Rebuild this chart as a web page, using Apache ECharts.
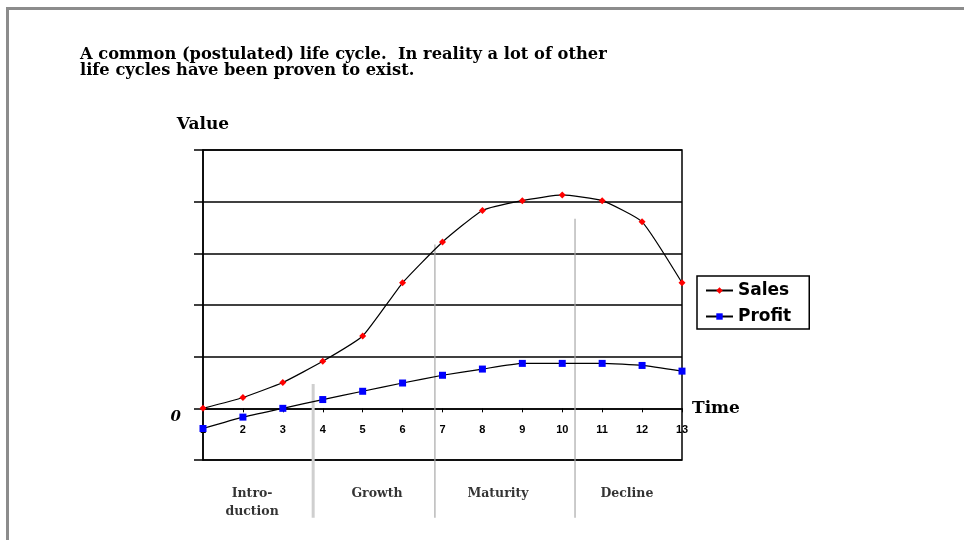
<!DOCTYPE html>
<html>
<head>
<meta charset="utf-8">
<script src="https://cdn.jsdelivr.net/npm/echarts@6/dist/echarts.min.js"></script>
<style>
html,body{margin:0;padding:0;background:#fff;}
#frame{position:absolute;left:6px;top:7px;width:964px;height:540px;border-top:3px solid #8c8c8c;border-left:3px solid #8c8c8c;}
#chart{position:absolute;left:0;top:0;width:964px;height:540px;}
</style>
</head>
<body>
<div id="frame"></div>
<div id="chart"></div>
<script>
// ---- data ----
const periods = [1,2,3,4,5,6,7,8,9,10,11,12,13];
const sales  = [0, 0.21, 0.5, 0.91, 1.4, 2.43, 3.22, 3.83, 4.02, 4.13, 4.02, 3.61, 2.43];
const profit = [-0.39, -0.17, 0, 0.17, 0.33, 0.49, 0.64, 0.76, 0.87, 0.87, 0.87, 0.83, 0.72];
const phaseNames = ['Intro-\nduction', 'Growth', 'Maturity', 'Decline'];
const phaseLabelX = [2.23, 5.36, 8.39, 11.62];
const phaseLabelY = -1.48;
const dividerX = [3.76, 6.81, 10.32];
const dividerTop = [0.47, 3.17, 3.67];
const dividerBottom = -2.12;
const titleText = 'A common (postulated) life cycle.  In reality a lot of other\nlife cycles have been proven to exist.';

const chart = echarts.init(document.getElementById('chart'), null, {renderer:'canvas'});

const serifBold = {fontFamily:'DejaVu Serif', fontWeight:'bold', color:'#000'};
const UNIT = 310 / 6;

const dividerSeries = dividerX.map((x, i) => ({
  type:'line', xAxisIndex:1, yAxisIndex:1, silent:true, symbol:'none',
  data:[[x, dividerTop[i]], [x, dividerBottom]],
  lineStyle:{color: i === 0 ? '#cfcfcf' : '#a8a8a8', width: i === 0 ? 3 : 1.2},
  z:1
}));

const option = {
  backgroundColor:'transparent',
  animation:false,
  title:{
    text: titleText, left:80, top:47, padding:0,
    textStyle:Object.assign({fontSize:16.3, lineHeight:16}, serifBold)
  },
  legend:{
    data:['Sales','Profit'],
    left:697, top:276, orient:'vertical',
    borderColor:'#000', borderWidth:1.5, padding:[6,18,4,8],
    itemWidth:27, itemHeight:8, itemGap:9,
    textStyle:{fontFamily:'DejaVu Sans', fontWeight:'bold', fontSize:17, color:'#000'}
  },
  grid:[
    {left:203, right:282, top:150, height:310, show:true, borderColor:'#000', borderWidth:1.5, backgroundColor:'transparent'},
    {left:203, right:282, top:150, height:UNIT * 7.2},
    {left:203, right:282, top:150, height:UNIT * 5}
  ],
  xAxis:[
    {type:'value', gridIndex:0, min:1, max:13, interval:1, show:false},
    {type:'value', gridIndex:1, min:1, max:13, show:false},
    {
      type:'value', gridIndex:2, min:1, max:13, interval:1, position:'bottom',
      name:'Time', nameLocation:'end', nameGap:10,
      nameTextStyle:Object.assign({fontSize:17, verticalAlign:'middle'}, serifBold),
      axisLine:{show:true, onZero:false, lineStyle:{color:'#000', width:1.5}},
      axisTick:{show:true, length:4, lineStyle:{color:'#000'}},
      axisLabel:{margin:16, fontFamily:'Liberation Sans', fontWeight:'bold', fontSize:11, color:'#000'},
      splitLine:{show:false}
    }
  ],
  yAxis:[
    {
      type:'value', gridIndex:0, min:-1, max:5, interval:1,
      name:'Value', nameLocation:'end', nameGap:17,
      nameTextStyle:Object.assign({fontSize:17, align:'center'}, serifBold),
      axisLine:{show:true, lineStyle:{color:'#000', width:1.5}},
      axisTick:{show:true, length:9, inside:false, lineStyle:{color:'#000', width:1.5}},
      axisLabel:{
        margin:22, fontFamily:'DejaVu Serif', fontStyle:'italic', fontWeight:'bold', fontSize:15, color:'#000',
        verticalAlign:'top', padding:[1,0,0,0],
        formatter: v => (v === 0 ? '0' : '')
      },
      splitLine:{show:true, lineStyle:{color:'#000', width:1.5}}
    },
    {type:'value', gridIndex:1, min:-2.2, max:5, show:false},
    {type:'value', gridIndex:2, min:0, max:5, show:false}
  ],
  series:[
    ...dividerSeries,
    {
      name:'Phases', type:'scatter', xAxisIndex:1, yAxisIndex:1, silent:true,
      symbolSize:0,
      data: phaseNames.map((n, i) => ({value:[phaseLabelX[i], phaseLabelY], name:n})),
      label:{
        show:true, position:'inside', formatter: p => p.name,
        align:'center', verticalAlign:'top',
        fontFamily:'DejaVu Serif', fontWeight:'bold', fontSize:12.5, lineHeight:18, color:'#000'
      }
    },
    {
      name:'Sales', type:'line', data: periods.map((p, i) => [p, sales[i]]),
      smooth:0.15, symbol:'diamond', symbolSize:7, showSymbol:true,
      itemStyle:{color:'#ff0000'}, lineStyle:{color:'#000', width:1.2},
      z:5
    },
    {
      name:'Profit', type:'line', data: periods.map((p, i) => [p, profit[i]]),
      smooth:0.15, symbol:'rect', symbolSize:7, showSymbol:true,
      itemStyle:{color:'#0000ff'}, lineStyle:{color:'#000', width:1.2},
      z:5
    }
  ]
};
chart.setOption(option);
</script>
</body>
</html>
